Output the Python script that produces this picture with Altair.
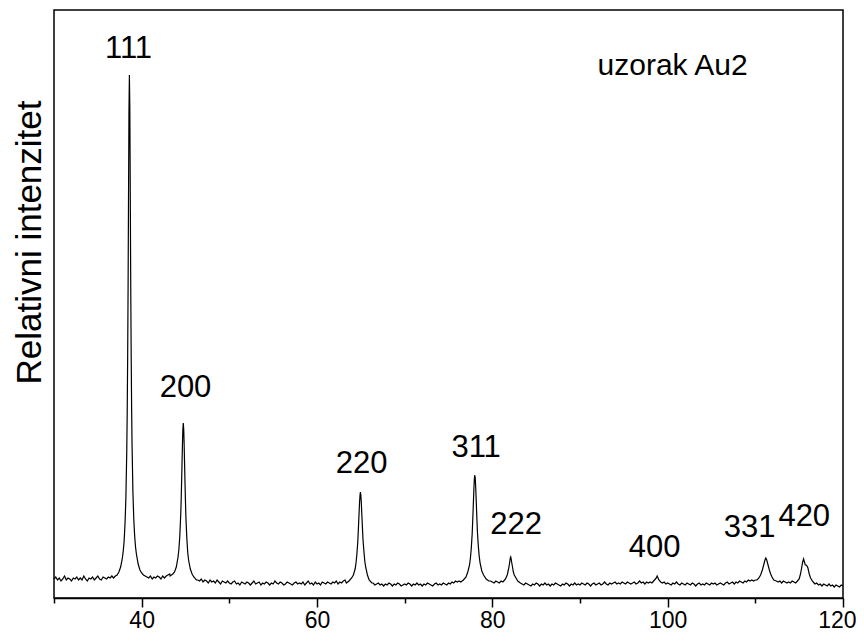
import altair as alt
import pandas as pd

# Base scan (2-theta from 30 to 120, step 0.2), relative intensity
base_counts = [
    19, 21, 18, 20, 17, 19, 22, 18, 20, 19,
    17, 20, 19, 21, 18, 20, 18, 22, 19, 17,
    20, 19, 21, 18, 20, 22, 19, 18, 21, 20,
    19, 21, 20, 22, 21, 23, 24, 26, 28, 33,
    60, 100, 240, 500, 250, 105, 62, 44, 34, 28,
    25, 23, 22, 21, 20, 22, 19, 21, 20, 22,
    21, 19, 22, 20, 22, 23, 24, 26, 31, 40,
    60, 95, 150, 175, 130, 80, 46, 30, 25, 22,
    20, 19, 18, 17, 19, 16, 18, 17, 15, 18,
    16, 17, 15, 18, 16, 14, 17, 16, 15, 17,
    15, 14, 16, 17, 14, 15, 13, 16, 15, 14,
    16, 15, 13, 15, 17, 14, 15, 16, 13, 15,
    14, 16, 15, 13, 15, 14, 17, 15, 14, 16,
    15, 13, 14, 16, 15, 14, 13, 15, 16, 14,
    15, 14, 16, 13, 15, 17, 14, 15, 13, 16,
    14, 15, 13, 16, 15, 14, 16, 15, 14, 16,
    15, 17, 14, 16, 15, 17, 18, 20, 22, 25,
    35, 60, 100, 80, 40, 25, 20, 18, 16, 15,
    16, 14, 15, 13, 14, 15, 13, 14, 12, 14,
    13, 15, 14, 12, 14, 13, 15, 14, 12, 13,
    14, 13, 15, 14, 12, 14, 13, 15, 13, 14,
    12, 14, 13, 15, 14, 13, 12, 14, 15, 13,
    14, 13, 15, 14, 13, 15, 14, 16, 15, 17,
    16, 17, 18, 20, 25, 40, 60, 90, 120, 90,
    120, 90, 60, 40, 26, 22, 19, 17, 16, 17,
    16, 15, 17, 16, 15, 17, 16, 19, 25, 30,
    38, 40, 30, 22, 17, 16, 15, 14, 13, 15,
    14, 13, 12, 14, 13, 15, 14, 12, 14, 13,
    15, 13, 14, 12, 14, 13, 15, 14, 13, 12,
    14, 13, 15, 14, 12, 14, 13, 15, 13, 14,
    13, 15, 14, 13, 15, 14, 12, 14, 15, 13,
    14, 15, 13, 14, 16, 14, 13, 15, 14, 15,
    16, 14, 15, 14, 16, 15, 14, 16, 15, 14,
    15, 16, 14, 15, 17, 15, 16, 14, 16, 15,
    16, 17, 18, 20, 22, 19, 17, 15, 16, 14,
    15, 14, 13, 15, 14, 16, 14, 13, 15, 14,
    13, 15, 14, 13, 15, 14, 12, 14, 15, 13,
    14, 13, 15, 14, 13, 15, 14, 15, 13, 14,
    15, 14, 13, 15, 16, 14, 15, 16, 14, 16,
    15, 17, 16, 15, 17, 16, 18, 17, 18, 17,
    18, 20, 24, 30, 38, 40, 33, 26, 21, 19,
    18, 17, 18, 16, 17, 15, 17, 16, 15, 16,
    15, 17, 16, 15, 16, 19, 30, 39, 35, 33,
    30, 22, 18, 16, 14, 15, 13, 14, 12, 14,
    13, 12, 14, 12, 13, 11, 13, 12, 11, 13,
    12,
]

# Finer readings around the reflections
p111_x = [36.8, 37.0, 37.2, 37.4, 37.6, 37.8, 37.9, 38.0, 38.1, 38.2, 38.3, 38.35,
          38.4, 38.45, 38.5, 38.55, 38.6, 38.65, 38.7, 38.75, 38.8, 38.85, 38.9,
          39.0, 39.1, 39.2, 39.3, 39.4, 39.6, 39.8, 40.0, 40.2, 40.4, 40.6]
p111_y = [20, 22, 23, 26, 31, 40, 47, 57, 74, 100, 147, 185,
          238, 309, 399, 485, 523, 488, 405, 318, 248, 194, 155,
          106, 79, 62, 51, 44, 34, 28, 25, 23, 22, 21]

p200_x = [43.25, 43.55, 43.75, 43.95, 44.15, 44.25, 44.35, 44.45, 44.5, 44.55, 44.6,
          44.65, 44.7, 44.75, 44.8, 44.85, 44.9, 44.95, 45.0, 45.05, 45.15, 45.25,
          45.35, 45.55, 45.75, 45.95, 46.25]
p200_y = [22, 24, 26, 31, 41, 49, 62, 82, 96, 114, 133,
          153, 169, 175, 168, 152, 132, 113, 95, 80, 60, 46,
          38, 29, 24, 21, 18]

p220_x = [63.35, 63.65, 63.95, 64.15, 64.35, 64.45, 64.55, 64.65, 64.7, 64.75, 64.8,
          64.85, 64.9, 64.95, 65.0, 65.05, 65.1, 65.15, 65.2, 65.25, 65.35, 65.45,
          65.55, 65.75, 65.95, 66.25]
p220_y = [15, 17, 20, 23, 29, 35, 44, 56, 65, 75, 85,
          95, 102, 106, 103, 96, 86, 77, 67, 58, 47, 37,
          31, 23, 18, 15]

p311_x = [76.4, 76.7, 77.0, 77.2, 77.4, 77.5, 77.6, 77.7, 77.75, 77.8, 77.85, 77.9,
          77.95, 78.0, 78.05, 78.1, 78.15, 78.2, 78.25, 78.3, 78.4, 78.5, 78.6,
          78.8, 79.0, 79.3, 79.6]
p311_y = [16, 18, 21, 26, 33, 40, 50, 64, 75, 86, 98, 110,
          119, 123, 120, 111, 100, 88, 77, 66, 52, 42, 35,
          27, 23, 19, 17]

p222_x = [81.3, 81.5, 81.7, 81.8, 81.9, 82.0, 82.05, 82.1, 82.15, 82.2, 82.3, 82.4,
          82.5, 82.7, 82.9, 83.2]
p222_y = [17, 19, 23, 27, 31, 37, 40, 41, 39, 36, 31, 26,
          23, 20, 17, 15]

p400_x = [98.2, 98.4, 98.6, 98.7, 98.8, 98.9, 99.0, 99.2, 99.4]
p400_y = [15, 17, 19, 20, 22, 20, 18, 16, 15]

p331_x = [110.2, 110.4, 110.6, 110.8, 110.95, 111.1, 111.2, 111.3, 111.45, 111.6,
          111.75, 111.9, 112.1, 112.4]
p331_y = [18, 20, 23, 28, 33, 38, 40, 38, 33, 28,
          24, 21, 18, 17]

p420_x = [114.8, 115.0, 115.15, 115.3, 115.4, 115.5, 115.6, 115.7, 115.8, 115.9,
          116.0, 116.15, 116.3, 116.5, 116.7]
p420_y = [17, 19, 24, 31, 36, 39, 36, 33, 33, 32,
          30, 24, 20, 17, 15]

# Reflection labels
hkl_labels = ["111", "200", "220", "311", "222", "400", "331", "420"]
hkl_x = [38.5, 45.0, 65.1, 78.15, 82.7, 98.5, 109.35, 115.58]
hkl_y = [540, 201, 125, 141, 64, 41, 61, 72]

sample_label = ["uzorak Au2"]
sample_x = [92.0]
sample_y = [523]

tick_values = [30, 40, 50, 60, 70, 80, 90, 100, 110, 120]

# ---- assemble scan ----
segments = [(p111_x, p111_y), (p200_x, p200_y), (p220_x, p220_y), (p311_x, p311_y),
            (p222_x, p222_y), (p400_x, p400_y), (p331_x, p331_y), (p420_x, p420_y)]
base_x = [round(30 + 0.2 * i, 2) for i in range(len(base_counts))]
pts = []
for xv, yv in zip(base_x, base_counts):
    if any(min(sx) <= xv <= max(sx) for sx, _ in segments):
        continue
    pts.append((xv, yv))
for sx, sy in segments:
    pts.extend(zip(sx, sy))
pts.sort()
scan = pd.DataFrame(pts, columns=["two_theta", "intensity"])

labels_df = pd.DataFrame({"label": hkl_labels, "x": hkl_x, "y": hkl_y})
sample_df = pd.DataFrame({"label": sample_label, "x": sample_x, "y": sample_y})

FONT = "Liberation Sans"

xscale = alt.Scale(domain=[30, 120], nice=False, zero=False)
yscale = alt.Scale(domain=[0, 588], nice=False, zero=True)

line = alt.Chart(scan).mark_line(color="black", strokeWidth=1.2).encode(
    x=alt.X("two_theta:Q", scale=xscale,
            axis=alt.Axis(
                values=tick_values,
                labelExpr="(datum.value % 20 == 0 && datum.value > 30) ? datum.label : ''",
                tickSize={"condition": {"test": "datum.value % 20 == 0", "value": 9}, "value": 5},
                tickColor="black", tickWidth=1.5,
                domainColor="black", domainWidth=1.5,
                labelFont=FONT, labelFontSize=23, labelColor="black", labelPadding=2,
                labelFlush=True, labelFlushOffset=13,
                grid=False, title=None)),
    y=alt.Y("intensity:Q", scale=yscale,
            axis=alt.Axis(labels=False, ticks=False, domain=False, grid=False,
                          title="Relativni intenzitet", titleFont=FONT, titleFontSize=35,
                          titleFontWeight="normal", titleColor="black", titleAngle=270,
                          titleX=-14, titleY=232, titleAlign="center",
                          titleBaseline="alphabetic")),
)

hkl = alt.Chart(labels_df).mark_text(
    font=FONT, fontSize=31, color="black", align="center", baseline="alphabetic"
).encode(x=alt.X("x:Q", scale=xscale), y=alt.Y("y:Q", scale=yscale), text="label:N")

sample = alt.Chart(sample_df).mark_text(
    font=FONT, fontSize=30, color="black", align="left", baseline="alphabetic"
).encode(x=alt.X("x:Q", scale=xscale), y=alt.Y("y:Q", scale=yscale), text="label:N")

chart = alt.layer(line, hkl, sample).properties(
    width=789, height=588,
    autosize=alt.AutoSizeParams(type="none"),
    padding={"left": 46, "top": 2, "right": 13, "bottom": 36},
    background="white",
).configure_view(stroke="black", strokeWidth=1.5)

chart.save("out.html", embed_options={"renderer": "svg", "actions": False})
